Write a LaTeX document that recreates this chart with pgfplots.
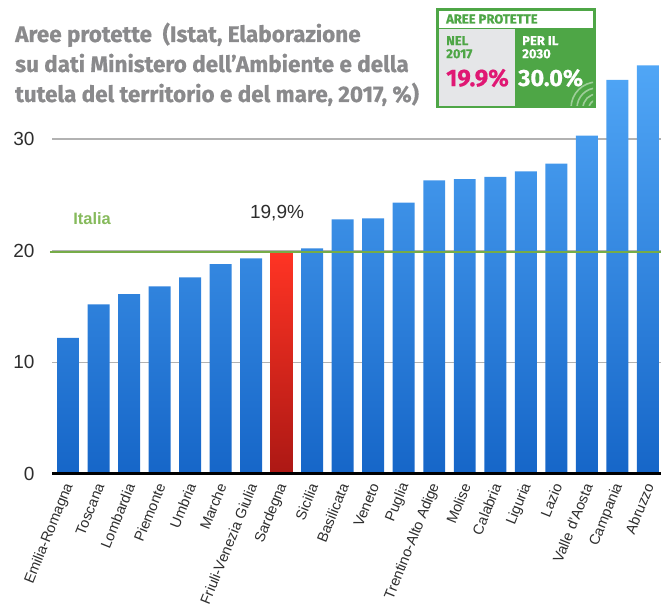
\documentclass[border=0pt]{standalone}
\usepackage{fontspec}
\setmainfont{Liberation Sans}
\newfontfamily\fira{Fira Sans}[BoldFont={Fira Sans Bold}, BoldFeatures={FakeBold=0.7}]
\usepackage{pgfplots}
\pgfplotsset{compat=1.18}
\definecolor{bartop}{RGB}{80,166,246}
\definecolor{barbot}{RGB}{22,102,200}
\definecolor{redtop}{RGB}{255,52,36}
\definecolor{redbot}{RGB}{172,24,20}
\definecolor{italia}{RGB}{118,172,72}
\definecolor{italiatxt}{RGB}{134,186,92}
\definecolor{titlegray}{RGB}{138,138,140}
\definecolor{boxgreen}{RGB}{78,166,70}
\definecolor{boxgray}{RGB}{229,230,232}
\definecolor{magenta19}{RGB}{224,24,116}
\definecolor{ticktxt}{RGB}{45,45,45}
\begin{document}
\begin{tikzpicture}
\path[use as bounding box] (0pt,0pt) rectangle (661pt,612pt);
% title
\node[anchor=base west, inner sep=0pt, text=titlegray, font=\fira\bfseries\fontsize{22.5}{24}\selectfont] at (15pt,570pt) {Aree protette\ \ (Istat, Elaborazione};
\node[anchor=base west, inner sep=0pt, text=titlegray, font=\fira\bfseries\fontsize{22.5}{24}\selectfont] at (15pt,540pt) {su dati Ministero dell’Ambiente e della};
\node[anchor=base west, inner sep=0pt, text=titlegray, font=\fira\bfseries\fontsize{22.5}{24}\selectfont] at (15pt,510pt) {tutela del territorio e del mare, 2017, \%)};
% box
\fill[boxgreen] (436pt,504pt) rectangle (596pt,604pt);
\fill[white] (439pt,584pt) rectangle (593pt,601pt);
\fill[boxgray] (439pt,506pt) rectangle (515pt,583pt);
\begin{scope}
\clip (515pt,506pt) rectangle (593pt,583pt);
\foreach \r in {8,14,20,26}{
  \draw[white, opacity=0.45, line width=1.6pt] (597pt,504pt) circle (\r pt);
}
\end{scope}
\node[anchor=west, inner sep=0pt, text=boxgreen, font=\fira\bfseries\fontsize{13}{13}\selectfont] at (446pt,593pt) {AREE PROTETTE};
\node[anchor=north west, inner sep=0pt, align=left, text=boxgreen, font=\fira\bfseries\fontsize{13}{13}\selectfont] at (446pt,576pt) {NEL\\2017};
\node[anchor=north west, inner sep=0pt, align=left, text=white, font=\fira\bfseries\fontsize{13}{13}\selectfont] at (522pt,576pt) {PER IL\\2030};
\node[anchor=west, inner sep=0pt, text=magenta19, font=\fira\bfseries\fontsize{24}{24}\selectfont] at (446pt,534pt) {19.9\%};
\node[anchor=west, inner sep=0pt, text=white, font=\fira\bfseries\fontsize{23.5}{24}\selectfont] at (518pt,534pt) {30.0\%};
\begin{axis}[
  at={(52pt,138pt)}, anchor=south west,
  scale only axis, width=609pt, height=424.3pt,
  xmin=-0.524, xmax=19.43, ymin=0, ymax=38,
  clip=false,
  /pgf/number format/assume math mode=true,
  axis x line*=bottom, axis y line*=left,
  x axis line style={draw=none},
  y axis line style={draw=none},
  tick style={draw=none},
  ytick={0,10,20,30},
  ymajorgrids,
  grid style={color=black!30, line width=1.6pt},
  yticklabel style={font=\fontsize{19}{19}\selectfont, text=ticktxt, xshift=-14pt},
  xtick={0,...,19},
  xticklabels={Emilia-Romagna,Toscana,Lombardia,Piemonte,Umbria,Marche,Friuli-Venezia Giulia,Sardegna,Sicilia,Basilicata,Veneto,Puglia,Trentino-Alto Adige,Molise,Calabria,Liguria,Lazio,Valle d'Aosta,Campania,Abruzzo},
  xticklabel style={xshift=2pt, yshift=-9pt, rotate=68, anchor=east, font=\fontsize{14.5}{14.5}\selectfont, text=ticktxt, inner sep=1pt},
]
\addplot[ybar, bar width=0.72, bar shift=0pt, draw=none, top color=bartop, bottom color=barbot] coordinates {
(0,12.2) (1,15.2) (2,16.1) (3,16.8) (4,17.6) (5,18.8) (6,19.3)
(8,20.2) (9,22.8) (10,22.9) (11,24.3) (12,26.3) (13,26.4) (14,26.6)
(15,27.1) (16,27.8) (17,30.3) (18,35.3) (19,36.6)};
\addplot[ybar, bar width=0.72, bar shift=0pt, draw=none, top color=redtop, bottom color=redbot] coordinates {(7,19.9)};
\addplot[italia, line width=2pt] coordinates {(-0.59,19.85) (19.43,19.85)};
\addplot[black, line width=3pt] coordinates {(-0.524,0) (19.43,0)};
\node[text=italiatxt, font=\bfseries\fontsize{16.5}{16.5}\selectfont] at (axis cs:0.79,22.9) {Italia};
\node[text=ticktxt, font=\fontsize{19}{19}\selectfont] at (axis cs:6.85,23.4) {19,9\%};
\end{axis}
\end{tikzpicture}
\end{document}
